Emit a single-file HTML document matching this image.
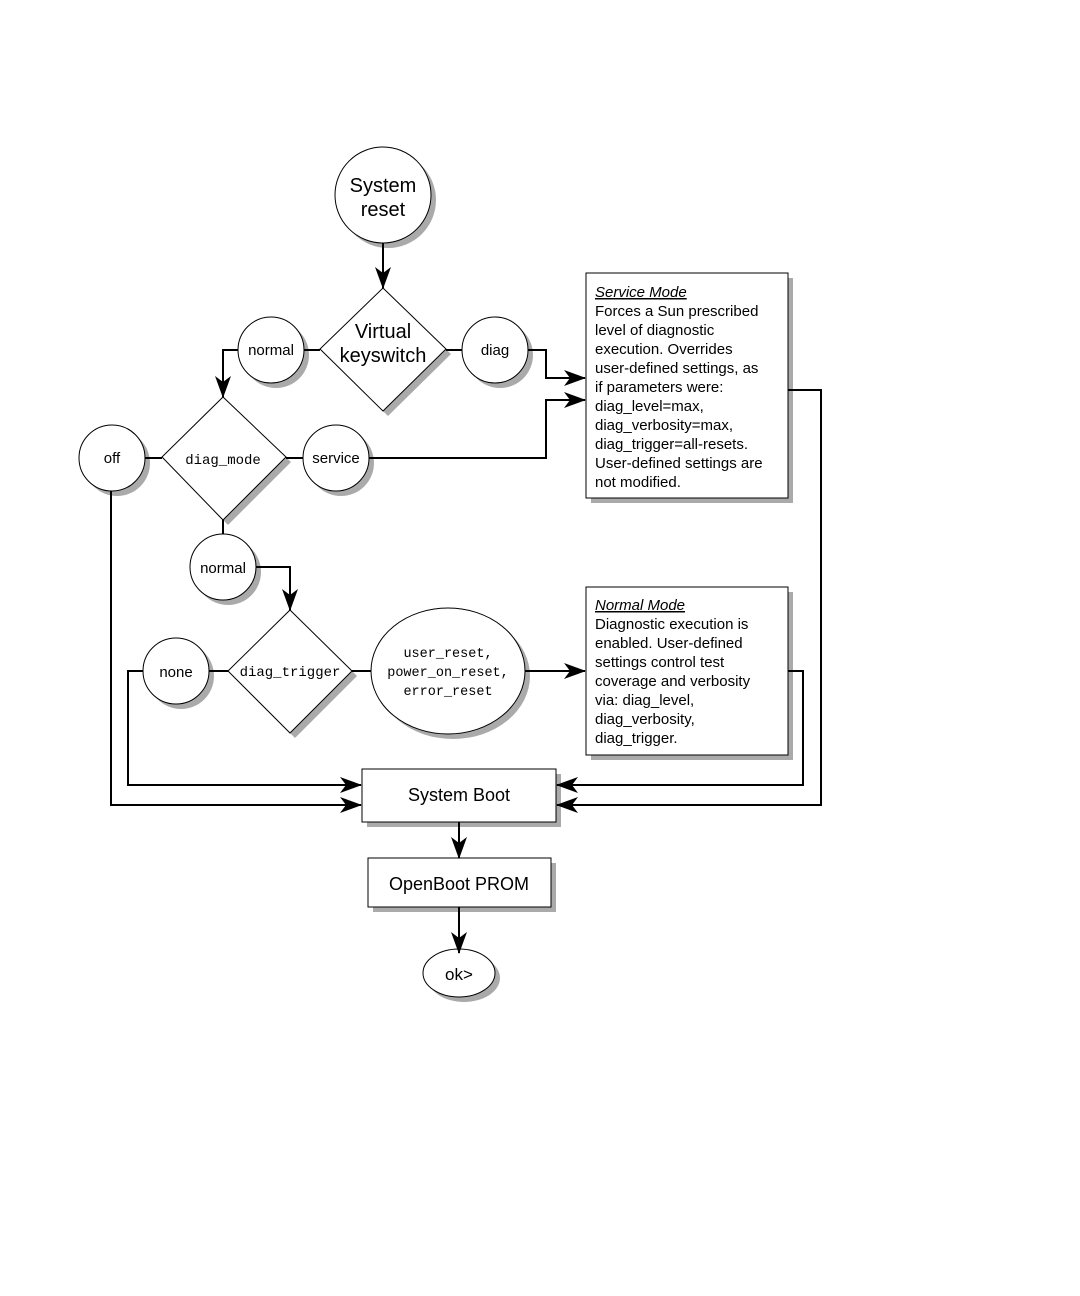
<!DOCTYPE html>
<html><head><meta charset="utf-8"><style>
html,body{margin:0;padding:0;background:#fff}
svg{display:block}
text{font-family:"Liberation Sans",sans-serif;fill:#000}
.m{font-family:"Liberation Mono",monospace}
</style></head><body>
<svg width="1080" height="1296" viewBox="0 0 1080 1296" xmlns="http://www.w3.org/2000/svg">
<defs>
<marker id="a" markerWidth="22" markerHeight="16" refX="21" refY="8" orient="auto" markerUnits="userSpaceOnUse">
<path d="M0,0 L22,8 L0,16 L6,8 Z" fill="#000"/>
</marker>
</defs>
<g fill="#aaa" stroke="none">
<circle cx="388" cy="200" r="48"/>
<polygon points="388,293 451,354 388,416 325,354"/>
<circle cx="276" cy="355" r="33"/>
<circle cx="500" cy="355" r="33"/>
<polygon points="228,402 291,462 228,525 167,462"/>
<circle cx="117" cy="463" r="33"/>
<circle cx="341" cy="463" r="33"/>
<rect x="591" y="278" width="202" height="225"/>
<ellipse cx="228" cy="572" rx="33" ry="33"/>
<polygon points="295,615 357,676 295,738 233,676"/>
<circle cx="181" cy="676" r="33"/>
<ellipse cx="453" cy="676" rx="77" ry="63"/>
<rect x="591" y="592" width="202" height="168"/>
<rect x="367" y="774" width="194" height="53"/>
<rect x="373" y="863" width="183" height="49"/>
<ellipse cx="464" cy="978" rx="36" ry="24"/>
</g>
<g fill="#fff" stroke="#000" stroke-width="1">
<circle cx="383" cy="195" r="48"/>
<polygon points="383,288 446,349 383,411 320,349"/>
<circle cx="271" cy="350" r="33"/>
<circle cx="495" cy="350" r="33"/>
<polygon points="223,397 286,457 223,520 162,457"/>
<circle cx="112" cy="458" r="33"/>
<circle cx="336" cy="458" r="33"/>
<rect x="586" y="273" width="202" height="225"/>
<ellipse cx="223" cy="567" rx="33" ry="33"/>
<polygon points="290,610 352,671 290,733 228,671"/>
<circle cx="176" cy="671" r="33"/>
<ellipse cx="448" cy="671" rx="77" ry="63"/>
<rect x="586" y="587" width="202" height="168"/>
<rect x="362" y="769" width="194" height="53"/>
<rect x="368" y="858" width="183" height="49"/>
<ellipse cx="459" cy="973" rx="36" ry="24"/>
</g>
<g fill="none" stroke="#000" stroke-width="2">
<path d="M383,243 V288" marker-end="url(#a)"/>
<path d="M320,350 H304"/>
<path d="M446,350 H462"/>
<path d="M238,350 H223 V397" marker-end="url(#a)"/>
<path d="M528,350 H546 V378 H585" marker-end="url(#a)"/>
<path d="M369,458 H546 V400 H585" marker-end="url(#a)"/>
<path d="M162,458 H145"/>
<path d="M286,458 H303"/>
<path d="M223,520 V534"/>
<path d="M256,567 H290 V610" marker-end="url(#a)"/>
<path d="M228,671 H209"/>
<path d="M352,671 H371"/>
<path d="M525,671 H585" marker-end="url(#a)"/>
<path d="M143,671 H128 V785 H361" marker-end="url(#a)"/>
<path d="M111,491 V805 H361" marker-end="url(#a)"/>
<path d="M788,390 H821 V805 H557" marker-end="url(#a)"/>
<path d="M788,671 H803 V785 H557" marker-end="url(#a)"/>
<path d="M459,822 V858" marker-end="url(#a)"/>
<path d="M459,907 V953" marker-end="url(#a)"/>
</g>
<g text-anchor="middle">
<text x="383" y="192" font-size="20">System</text>
<text x="383" y="216" font-size="20">reset</text>
<text x="383" y="338" font-size="20">Virtual</text>
<text x="383" y="362" font-size="20">keyswitch</text>
<text x="271" y="355" font-size="15">normal</text>
<text x="495" y="355" font-size="15">diag</text>
<text x="112" y="463" font-size="15">off</text>
<text x="336" y="463" font-size="15">service</text>
<text x="223" y="464" font-size="14" class="m">diag_mode</text>
<text x="223" y="573" font-size="15">normal</text>
<text x="176" y="677" font-size="15">none</text>
<text x="290" y="676" font-size="14" class="m">diag_trigger</text>
<text x="448" y="657" font-size="13.5" class="m">user_reset,</text>
<text x="448" y="676" font-size="13.5" class="m">power_on_reset,</text>
<text x="448" y="695" font-size="13.5" class="m">error_reset</text>
<text x="459" y="801" font-size="18">System Boot</text>
<text x="459" y="890" font-size="18">OpenBoot PROM</text>
<text x="459" y="980" font-size="17">ok&gt;</text>
</g>
<g font-size="15">
<text x="595" y="297" font-style="italic" text-decoration="underline">Service Mode</text>
<text x="595" y="316">Forces a Sun prescribed</text>
<text x="595" y="335">level of diagnostic</text>
<text x="595" y="354">execution.  Overrides</text>
<text x="595" y="373">user-defined settings, as</text>
<text x="595" y="392">if parameters were:</text>
<text x="595" y="411">diag_level=max,</text>
<text x="595" y="430">diag_verbosity=max,</text>
<text x="595" y="449">diag_trigger=all-resets.</text>
<text x="595" y="468">User-defined settings are</text>
<text x="595" y="487">not modified.</text>
<text x="595" y="610" font-style="italic" text-decoration="underline">Normal Mode</text>
<text x="595" y="629">Diagnostic execution is</text>
<text x="595" y="648">enabled.  User-defined</text>
<text x="595" y="667">settings control test</text>
<text x="595" y="686">coverage and verbosity</text>
<text x="595" y="705">via: diag_level,</text>
<text x="595" y="724">diag_verbosity,</text>
<text x="595" y="743">diag_trigger.</text>
</g>
</svg>
</body></html>
